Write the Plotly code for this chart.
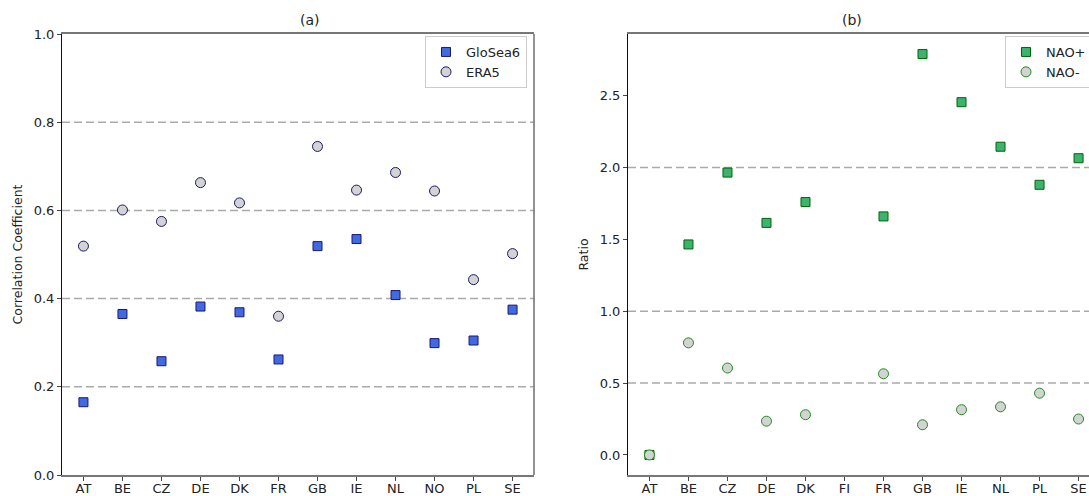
import plotly.graph_objects as go

# ---- data ----
countries_a = ["AT", "BE", "CZ", "DE", "DK", "FR", "GB", "IE", "NL", "NO", "PL", "SE"]
glosea6 = [0.165, 0.365, 0.258, 0.382, 0.369, 0.262, 0.519, 0.535, 0.408, 0.299, 0.305, 0.375]
era5 = [0.519, 0.601, 0.575, 0.663, 0.617, 0.360, 0.745, 0.646, 0.686, 0.644, 0.443, 0.502]

countries_b = ["AT", "BE", "CZ", "DE", "DK", "FI", "FR", "GB", "IE", "NL", "PL", "SE"]
nao_pos = [0.0, 1.465, 1.965, 1.615, 1.76, None, 1.66, 2.79, 2.455, 2.145, 1.88, 2.065]
nao_neg = [0.0, 0.78, 0.605, 0.235, 0.28, None, 0.565, 0.21, 0.315, 0.335, 0.43, 0.25]

hlines_a = [0.2, 0.4, 0.6, 0.8]
hlines_b = [0.5, 1.0, 2.0]

W, H = 1089, 496
FONT = "DejaVu Sans"
SPINE_GREY = "#777777"

fig = go.Figure()

fig.add_trace(go.Scatter(
    x=countries_a, y=glosea6, mode="markers", name="GloSea6",
    marker=dict(symbol="square", size=9, color="#4169E1",
                line=dict(color="#191970", width=1)),
    xaxis="x", yaxis="y", legend="legend"))
fig.add_trace(go.Scatter(
    x=countries_a, y=era5, mode="markers", name="ERA5",
    marker=dict(symbol="circle", size=10, color="#D3D3D3",
                line=dict(color="#191970", width=1)),
    xaxis="x", yaxis="y", legend="legend"))

fig.add_trace(go.Scatter(
    x=countries_b, y=nao_pos, mode="markers", name="NAO+",
    marker=dict(symbol="square", size=9, color="#3CB371",
                line=dict(color="#006400", width=1)),
    xaxis="x2", yaxis="y2", legend="legend2"))
fig.add_trace(go.Scatter(
    x=countries_b, y=nao_neg, mode="markers", name="NAO-",
    marker=dict(symbol="circle", size=10, color="#D3D3D3",
                line=dict(color="#228B22", width=1)),
    xaxis="x2", yaxis="y2", legend="legend2"))

shapes = []
for v in hlines_a:
    shapes.append(dict(type="line", xref="x domain", yref="y", x0=0, x1=1, y0=v, y1=v,
                       line=dict(color="#aaaaaa", width=1.5, dash="8px,4px"), layer="below"))
for v in hlines_b:
    shapes.append(dict(type="line", xref="x2 domain", yref="y2", x0=0, x1=1, y0=v, y1=v,
                       line=dict(color="#aaaaaa", width=1.5, dash="8px,4px"), layer="below"))
# right spine of panel (a) (grey like top/bottom)
shapes.append(dict(type="line", xref="x domain", yref="y domain", x0=1, x1=1, y0=0, y1=1,
                   line=dict(color=SPINE_GREY, width=1.6), layer="above"))

# pixel layout
ax_a_l, ax_a_r = 62, 534
ax_b_l = 628
ytop, ybot = 34, 475
step = (ax_a_r - ax_a_l) / 12.1
b_range_max = (W - ax_b_l) / step - 0.55

ydom = [(H - ybot) / H, (H - ytop) / H]

axis_common = dict(showgrid=False, zeroline=False, ticks="outside", ticklen=4,
                   tickwidth=1, tickcolor="#444", tickfont=dict(family=FONT, size=13, color="#222"))

ymax_b = max(v for v in nao_pos if v is not None)
pad_b = 0.05 * ymax_b

fig.update_layout(
    width=W, height=H,
    margin=dict(l=0, r=0, t=0, b=0, autoexpand=False),
    paper_bgcolor="white", plot_bgcolor="white",
    font=dict(family=FONT, size=12, color="#222"),
    showlegend=True,
    xaxis=dict(domain=[ax_a_l / W, ax_a_r / W], range=[-0.55, 11.55], type="category",
               showline=True, mirror=True, linecolor=SPINE_GREY, linewidth=1.6, anchor="y",
               ticklabelstandoff=-3, **axis_common),
    yaxis=dict(domain=ydom, range=[0, 1.0], tickvals=[0, 0.2, 0.4, 0.6, 0.8, 1.0],
               ticktext=["0.0", "0.2", "0.4", "0.6", "0.8", "1.0"],
               showline=True, mirror=False, linecolor="#111", linewidth=1.1, anchor="x",
               title=dict(text="Correlation Coefficient", font=dict(family=FONT, size=12.5), standoff=8),
               **axis_common),
    xaxis2=dict(domain=[ax_b_l / W, 1.0], range=[-0.55, b_range_max], type="category",
                showline=True, mirror=True, linecolor=SPINE_GREY, linewidth=1.6, anchor="y2",
                ticklabelstandoff=-3, **axis_common),
    yaxis2=dict(domain=ydom, range=[-pad_b, ymax_b + pad_b],
                tickvals=[0, 0.5, 1.0, 1.5, 2.0, 2.5],
                ticktext=["0.0", "0.5", "1.0", "1.5", "2.0", "2.5"],
                showline=True, mirror=False, linecolor="#111", linewidth=1.1, anchor="x2",
                title=dict(text="Ratio", font=dict(family=FONT, size=12.5), standoff=8),
                **axis_common),
    legend=dict(x=527 / W, y=(H - 36) / H, xanchor="right", yanchor="top",
                bgcolor="rgba(255,255,255,0.8)", bordercolor="#cccccc", borderwidth=1,
                font=dict(family=FONT, size=13, color="#222"), tracegroupgap=0,
                itemwidth=30),
    legend2=dict(x=1005 / W, y=(H - 36) / H, xanchor="left", yanchor="top",
                 bgcolor="rgba(255,255,255,0.8)", bordercolor="#cccccc", borderwidth=1,
                 font=dict(family=FONT, size=13, color="#222"), tracegroupgap=0,
                 itemwidth=30),
    shapes=shapes,
    annotations=[
        dict(text="(a)", x=(ax_a_l + ax_a_r) / 2 / W, y=(H - 20) / H, xref="paper", yref="paper",
             showarrow=False, font=dict(family=FONT, size=14, color="#222"), yanchor="middle"),
        dict(text="(b)", x=(ax_b_l + ax_b_l + 12.1 * step) / 2 / W, y=(H - 20) / H, xref="paper", yref="paper",
             showarrow=False, font=dict(family=FONT, size=14, color="#222"), yanchor="middle"),
    ],
)

fig.write_html(
    "out.html",
    config={"displayModeBar": False},
    post_script="document.body.style.margin='0';document.body.style.overflow='hidden';",
)
